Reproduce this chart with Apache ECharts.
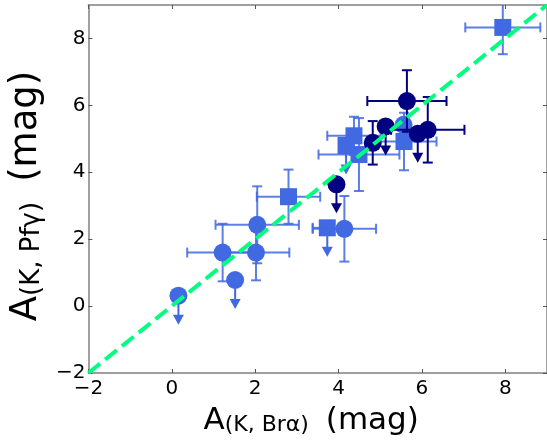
<!DOCTYPE html>
<html><head><meta charset="utf-8">
<script src="https://cdn.jsdelivr.net/npm/echarts@6/dist/echarts.min.js"></script>
<style>html,body{margin:0;padding:0;background:#fff}#c{width:547px;height:441px}</style>
</head><body><div id="c"></div>
<script>
const xTicks = [-2, 0, 2, 4, 6, 8];
const yTicks = [-2, 0, 2, 4, 6, 8];
// each row: [x, y, xErr, yErr, upperLimit]
const lightCircles = [
  [0.16, 0.31, 0, 0, 1],
  [1.52, 0.78, 0, 0, 1],
  [1.22, 1.60, 0.85, 0.86, 0],
  [2.02, 1.60, 0.80, 0.83, 0],
  [2.05, 2.43, 1.00, 1.15, 0],
  [4.14, 2.31, 0.76, 0.98, 0],
  [5.56, 5.42, 0, 0, 0]
];
const lightSquares = [
  [2.80, 3.27, 0.76, 0.81, 0],
  [3.73, 2.34, 0.35, 0, 1],
  [4.18, 4.80, 0, 0, 1],
  [4.37, 5.09, 0.64, 0.57, 0],
  [4.49, 4.53, 0.97, 1.09, 0],
  [5.57, 4.92, 0.78, 0.86, 0],
  [7.94, 8.33, 0.90, 0.80, 0]
];
const darkCircles = [
  [3.95, 3.64, 0, 0, 1],
  [4.82, 4.88, 0, 0.65, 0],
  [5.13, 5.37, 0, 0, 1],
  [5.90, 5.15, 0, 0, 1],
  [5.64, 6.13, 0.95, 0.92, 0],
  [6.14, 5.27, 0.88, 0.98, 0]
];
const oneToOneX = [-2, 9];
const oneToOneY = [-2, 9];

const LIGHT = '#4169E1', DARK = '#000080', GREEN = '#00FF7F';
const FONT = 'DejaVu Sans';

function errRender(color, opacity) {
  return function (params, api) {
    const x = api.value(0), y = api.value(1), xe = api.value(2), ye = api.value(3), ul = api.value(4);
    const c = api.coord([x, y]);
    const st = { stroke: color, lineWidth: 2, opacity: opacity };
    const cap = 5;
    const ch = [];
    const ln = (x1, y1, x2, y2, s) => ch.push({ type: 'line', shape: { x1, y1, x2, y2 }, style: s || st });
    if (xe > 0) {
      const l = api.coord([x - xe, y]), r = api.coord([x + xe, y]);
      ln(l[0], l[1], r[0], r[1]);
      ln(l[0], l[1] - cap, l[0], l[1] + cap);
      ln(r[0], r[1] - cap, r[0], r[1] + cap);
    }
    if (ye > 0) {
      const t = api.coord([x, y + ye]), b = api.coord([x, y - ye]);
      ln(t[0], t[1], b[0], b[1]);
      ln(t[0] - cap, t[1], t[0] + cap, t[1]);
      ln(b[0] - cap, b[1], b[0] + cap, b[1]);
    }
    if (ul) {
      ln(c[0], c[1], c[0], c[1] + 20, { stroke: color, lineWidth: 2 });
      ch.push({ type: 'polygon', shape: { points: [[c[0] - 5.5, c[1] + 19], [c[0] + 5.5, c[1] + 19], [c[0], c[1] + 29]] }, style: { fill: color } });
    }
    return { type: 'group', children: ch };
  };
}

const labelFmt = v => String(v).replace('-', '\u2212');
const richX = {
  a: { fontSize: 31, lineHeight: 31, verticalAlign: 'bottom', fontFamily: FONT, color: '#000' },
  s: { fontSize: 22, lineHeight: 19, verticalAlign: 'bottom', fontFamily: FONT, color: '#000' }
};
const richY = {
  a: { fontSize: 37, lineHeight: 37, verticalAlign: 'bottom', fontFamily: FONT, color: '#000' },
  s: { fontSize: 26, lineHeight: 23, verticalAlign: 'bottom', fontFamily: FONT, color: '#000' }
};
const axisCommon = {
  type: 'value', min: xTicks[0], max: 9, interval: xTicks[1] - xTicks[0],
  splitLine: { show: false },
  axisLine: { show: true, onZero: false, lineStyle: { color: '#808080', width: 1.5 } },
  axisTick: { show: true, inside: true, length: 4, lineStyle: { color: '#555', width: 1 } }
};

const chart = echarts.init(document.getElementById('c'), null, { renderer: 'canvas' });
chart.setOption({
  animation: false,
  backgroundColor: '#fff',
  grid: { left: 83, right: -1, top: 5, bottom: 65, containLabel: false },
  xAxis: [
    Object.assign({}, axisCommon, {
      position: 'bottom',
      axisLabel: { show: true, fontSize: 20, fontFamily: FONT, color: '#000', margin: 6, showMaxLabel: false, formatter: labelFmt },
      name: '{a|A}{s|(K, Br\u03b1) }{a| (mag)}',
      nameLocation: 'middle', nameGap: 32,
      nameTextStyle: { rich: richX, padding: [0, 13, 0, 0] }
    }),
    Object.assign({}, axisCommon, { position: 'top', axisLabel: { show: false } })
  ],
  yAxis: [
    Object.assign({}, axisCommon, {
      min: yTicks[0], interval: yTicks[1] - yTicks[0],
      position: 'left',
      axisLabel: { show: true, fontSize: 20, fontFamily: FONT, color: '#000', margin: 3, showMaxLabel: false, formatter: labelFmt },
      name: '{a|A}{s|(K, Pf\u03b3) }{a| (mag)}',
      nameLocation: 'middle', nameGap: 36, nameRotate: 90,
      nameTextStyle: { rich: richY, padding: [0, 14, 0, 0] }
    }),
    Object.assign({}, axisCommon, { min: yTicks[0], interval: yTicks[1] - yTicks[0], position: 'right', axisLabel: { show: false } })
  ],
  series: [
    { type: 'custom', renderItem: errRender(LIGHT, 0.85), data: lightSquares, encode: { x: 0, y: 1 }, clip: true, z: 2, silent: true },
    { type: 'scatter', symbol: 'rect', symbolSize: 17, data: lightSquares.map(r => [r[0], r[1]]), itemStyle: { color: LIGHT, opacity: 1 }, z: 3, silent: true },
    { type: 'custom', renderItem: errRender(LIGHT, 0.85), data: lightCircles, encode: { x: 0, y: 1 }, clip: true, z: 4, silent: true },
    { type: 'scatter', symbol: 'circle', symbolSize: 18, data: lightCircles.map(r => [r[0], r[1]]), itemStyle: { color: LIGHT, opacity: 1 }, z: 5, silent: true },
    { type: 'custom', renderItem: errRender(DARK, 1), data: darkCircles, encode: { x: 0, y: 1 }, clip: true, z: 6, silent: true },
    { type: 'scatter', symbol: 'circle', symbolSize: 18, data: darkCircles.map(r => [r[0], r[1]]), itemStyle: { color: DARK, opacity: 1 }, z: 7, silent: true },
    { type: 'line', data: oneToOneX.map((v, i) => [v, oneToOneY[i]]), showSymbol: false, symbol: 'none',
      lineStyle: { color: GREEN, width: 4, type: [15, 6.5] }, z: 8, silent: true, clip: true }
  ]
});
</script></body></html>
